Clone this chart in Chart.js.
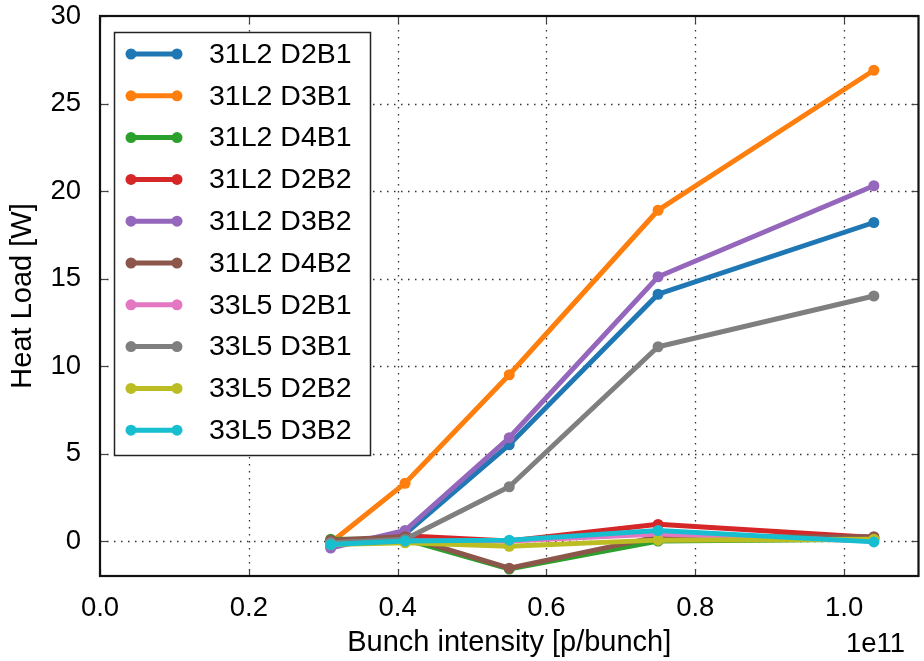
<!DOCTYPE html>
<html>
<head>
<meta charset="utf-8">
<script src="https://cdn.jsdelivr.net/npm/chart.js@4"></script>
<style>
html,body{margin:0;padding:0;background:#fff;}
#wrap{width:924px;height:661px;}
</style>
</head>
<body>
<div id="wrap"><canvas id="c" width="924" height="661"></canvas></div>
<script>
const intensity = [0.31, 0.41, 0.55, 0.75, 1.04];
const seriesNames = ["31L2 D2B1","31L2 D3B1","31L2 D4B1","31L2 D2B2","31L2 D3B2","31L2 D4B2","33L5 D2B1","33L5 D3B1","33L5 D2B2","33L5 D3B2"];
const s31L2_D2B1 = [-0.3, 0.4, 5.5, 14.1, 18.2];
const s31L2_D3B1 = [-0.1, 3.3, 9.5, 18.9, 26.9];
const s31L2_D4B1 = [0.1, 0.1, -1.6, 0.0, 0.1];
const s31L2_D2B2 = [-0.1, 0.3, 0.0, 0.95, 0.2];
const s31L2_D3B2 = [-0.4, 0.6, 5.9, 15.1, 20.3];
const s31L2_D4B2 = [0.05, 0.25, -1.55, 0.25, 0.25];
const s33L5_D2B1 = [-0.1, 0.0, 0.0, 0.4, 0.0];
const s33L5_D3B1 = [-0.1, 0.1, 3.1, 11.1, 14.0];
const s33L5_D2B2 = [-0.2, -0.1, -0.3, 0.05, 0.1];
const s33L5_D3B2 = [-0.2, 0.0, 0.05, 0.6, -0.05];
const seriesValues = [s31L2_D2B1,s31L2_D3B1,s31L2_D4B1,s31L2_D2B2,s31L2_D3B2,s31L2_D4B2,s33L5_D2B1,s33L5_D3B1,s33L5_D2B2,s33L5_D3B2];
const colors = ["#1f77b4","#ff7f0e","#2ca02c","#d62728","#9467bd","#8c564b","#e377c2","#7f7f7f","#bcbd22","#17becf"];
const xTicks = [0.0, 0.2, 0.4, 0.6, 0.8, 1.0];
const yTicks = [0, 5, 10, 15, 20, 25, 30];
const xLabel = "Bunch intensity [p/bunch]";
const yLabel = "Heat Load [W]";
const offsetText = "1e11";

const FONT = "'Liberation Sans', Arial, sans-serif";

const datasets = seriesNames.map((n, i) => ({
  label: n,
  data: intensity.map((x, j) => ({x: x, y: seriesValues[i][j]})),
  borderColor: colors[i],
  backgroundColor: colors[i],
  borderWidth: 5,
  pointRadius: 5.5,
  pointBorderWidth: 0,
  pointHoverRadius: 5.5,
  tension: 0,
  order: seriesNames.length - i
}));

const decor = {
  id: 'decor',
  beforeDatasetsDraw(chart) {
    const ctx = chart.ctx, a = chart.chartArea;
    const xs = chart.scales.x, ys = chart.scales.y;
    ctx.save();
    ctx.strokeStyle = '#333';
    ctx.lineWidth = 1.3;
    ctx.setLineDash([1.5, 5.5]);
    xTicks.forEach(v => {
      const px = Math.round(xs.getPixelForValue(v)) + 0.5;
      if (px <= a.left + 1 || px >= a.right - 1) return;
      ctx.beginPath(); ctx.moveTo(px, a.top); ctx.lineTo(px, a.bottom); ctx.stroke();
    });
    yTicks.forEach(v => {
      const py = Math.round(ys.getPixelForValue(v)) + 0.5;
      if (py <= a.top + 1 || py >= a.bottom - 1) return;
      ctx.beginPath(); ctx.moveTo(a.left, py); ctx.lineTo(a.right, py); ctx.stroke();
    });
    ctx.restore();
  },
  afterDatasetsDraw(chart) {
    const ctx = chart.ctx, a = chart.chartArea;
    const xs = chart.scales.x, ys = chart.scales.y;
    ctx.save();
    ctx.strokeStyle = '#444';
    ctx.lineWidth = 1.2;
    const tl = 7;
    xTicks.forEach(v => {
      const px = Math.round(xs.getPixelForValue(v)) + 0.5;
      ctx.beginPath(); ctx.moveTo(px, a.bottom); ctx.lineTo(px, a.bottom - tl); ctx.stroke();
      ctx.beginPath(); ctx.moveTo(px, a.top); ctx.lineTo(px, a.top + tl); ctx.stroke();
    });
    yTicks.forEach(v => {
      const py = Math.round(ys.getPixelForValue(v)) + 0.5;
      ctx.beginPath(); ctx.moveTo(a.left, py); ctx.lineTo(a.left + tl, py); ctx.stroke();
      ctx.beginPath(); ctx.moveTo(a.right, py); ctx.lineTo(a.right - tl, py); ctx.stroke();
    });
    ctx.strokeStyle = '#111';
    ctx.lineWidth = 2.2;
    ctx.strokeRect(a.left, a.top, a.right - a.left, a.bottom - a.top);
    // legend
    const lx = 114, ly = 32, lw = 256, lh = 423;
    ctx.fillStyle = '#fff';
    ctx.fillRect(lx, ly, lw, lh);
    ctx.strokeStyle = '#222';
    ctx.lineWidth = 1.5;
    ctx.strokeRect(lx + 0.5, ly + 0.5, lw, lh);
    ctx.font = "28.5px " + FONT;
    ctx.textBaseline = 'middle';
    ctx.textAlign = 'left';
    seriesNames.forEach((n, i) => {
      const y = 54 + i * 41.8;
      ctx.strokeStyle = colors[i];
      ctx.fillStyle = colors[i];
      ctx.lineWidth = 5;
      ctx.beginPath(); ctx.moveTo(131, y); ctx.lineTo(177, y); ctx.stroke();
      [131, 177].forEach(cx => { ctx.beginPath(); ctx.arc(cx, y, 5.5, 0, Math.PI * 2); ctx.fill(); });
      ctx.fillStyle = '#000';
      ctx.fillText(n, 209, y + 1);
    });
    ctx.font = "27.5px " + FONT;
    ctx.textBaseline = 'alphabetic';
    ctx.textAlign = 'left';
    ctx.fillStyle = '#000';
    ctx.fillText(offsetText, 846, 652);
    ctx.restore();
  }
};

new Chart(document.getElementById('c'), {
  type: 'line',
  data: { datasets: datasets },
  options: {
    responsive: false,
    animation: false,
    devicePixelRatio: 1,
    layout: { padding: { top: 16, right: 3, left: 0, bottom: 0 } },
    plugins: { legend: { display: false }, tooltip: { enabled: false } },
    scales: {
      x: {
        type: 'linear', min: 0, max: 1.1,
        afterFit(s) { s.height = 85; s.paddingLeft = 0; s.paddingRight = 0; },
        afterBuildTicks(s) { s.ticks = xTicks.map(v => ({value: v})); },
        grid: { display: false, drawTicks: false },
        border: { display: false },
        ticks: { padding: 16, color: '#000', font: { family: FONT, size: 27.5 },
                 callback: v => v.toFixed(1), maxRotation: 0, autoSkip: false },
        title: { display: true, text: xLabel, color: '#000', font: { family: FONT, size: 29 }, padding: { top: 0, bottom: 1 } }
      },
      y: {
        type: 'linear', min: -2, max: 30,
        afterFit(s) { s.width = 100; s.paddingTop = 0; s.paddingBottom = 0; },
        afterBuildTicks(s) { s.ticks = yTicks.map(v => ({value: v})); },
        grid: { display: false, drawTicks: false },
        border: { display: false },
        ticks: { padding: 19, color: '#000', font: { family: FONT, size: 27.5 }, autoSkip: false },
        title: { display: true, text: yLabel, color: '#000', font: { family: FONT, size: 29 }, padding: { top: 6, bottom: 0 } }
      }
    }
  },
  plugins: [decor]
});
</script>
</body>
</html>
